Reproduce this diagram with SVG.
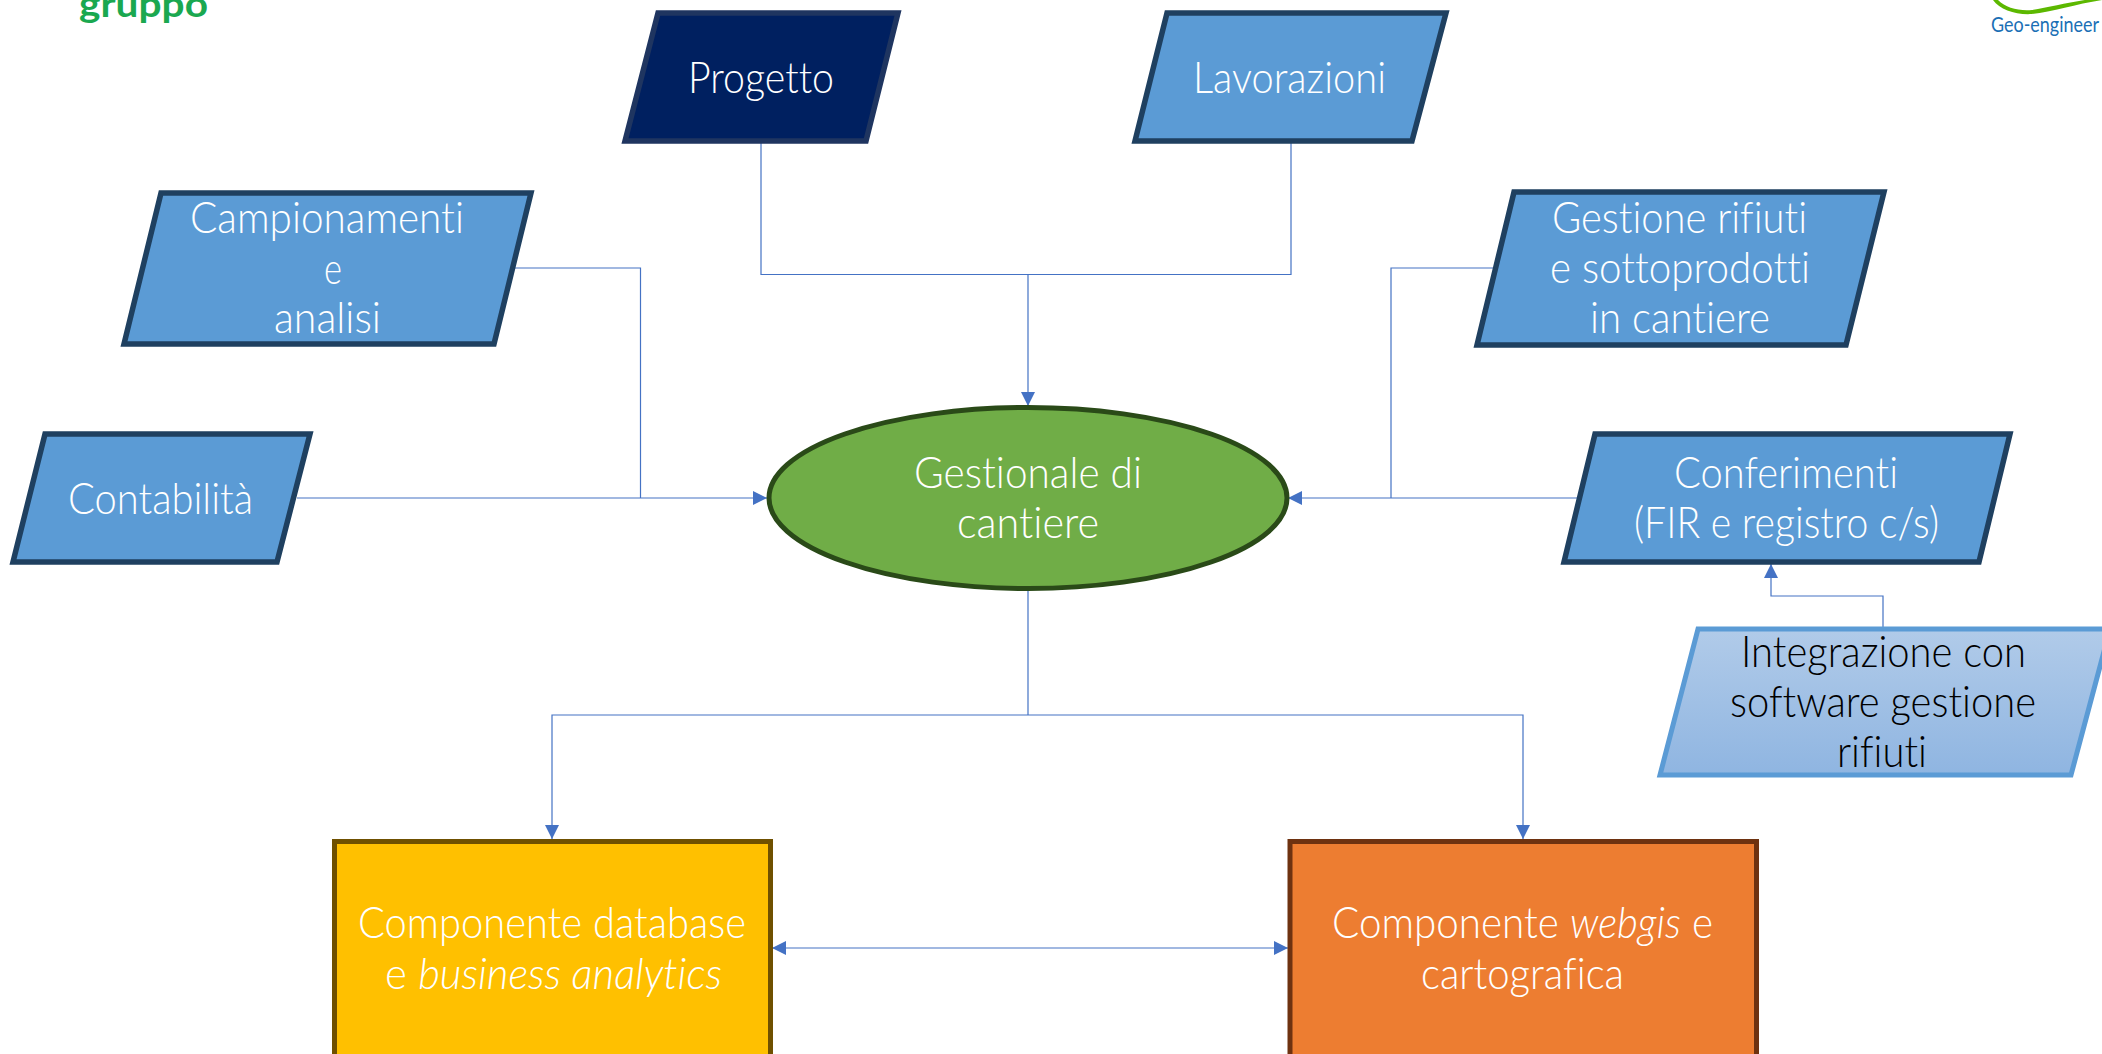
<svg xmlns="http://www.w3.org/2000/svg" width="2102" height="1054" viewBox="0 0 2102 1054">
<style>
text{font-family:"Lato","Open Sans","Liberation Sans",sans-serif;font-weight:300;font-size:44px;fill:#fff;font-variant-ligatures:none;transform:translateY(1px)}
.k{fill:#000}
.i{font-style:italic}
.p{fill:#5b9bd5;stroke:#1f4060;stroke-width:5.500}
.c{fill:none;stroke:#4472c4;stroke-width:1.200}
</style>
<defs>
<marker id="a" viewBox="0 0 12 12" refX="12" refY="6" markerUnits="userSpaceOnUse" markerWidth="14" markerHeight="14" orient="auto-start-reverse"><path d="M0 0L12 6L0 12z" fill="#4472c4"/></marker>
<linearGradient id="g" x1="0" y1="0" x2="0" y2="1"><stop offset="0" stop-color="#b1cbe9"/><stop offset="1" stop-color="#8fb5e1"/></linearGradient>
</defs>
<g id="logo-left"><text x="79" y="16" textLength="129" lengthAdjust="spacingAndGlyphs" style="font-weight:700;font-size:36px;fill:#1aa850">gruppo</text></g>
<g id="logo-right"><path d="M1993 0C2000 10 2016 15 2032 14C2052 12 2076 4 2102 0V-2C2076 0 2052 7 2032 10C2018 11 2006 8 1998 0z" fill="#5cb800"/><text x="1991" y="31" textLength="108" lengthAdjust="spacingAndGlyphs" style="font-weight:400;font-size:21px;fill:#1a6fb5">Geo-engineer</text></g>
<g id="connectors">
<path class="c" d="M761 143V274.500H1291V143"/>
<path class="c" d="M1028 274.500V406" marker-end="url(#a)"/>
<path class="c" d="M515 268H640.500V498"/>
<path class="c" d="M297 498H767" marker-end="url(#a)"/>
<path class="c" d="M1494 268H1391V498"/>
<path class="c" d="M1578 498H1288" marker-end="url(#a)"/>
<path class="c" d="M1883 627V596H1771V564" marker-end="url(#a)"/>
<path class="c" d="M1028 590V715"/>
<path class="c" d="M1028 715H552V839" marker-end="url(#a)"/>
<path class="c" d="M1028 715H1523V839" marker-end="url(#a)"/>
<path class="c" d="M772 948H1288" marker-start="url(#a)" marker-end="url(#a)"/>
</g>
<g id="progetto"><path d="M658 13H898L866 141H625z" style="fill:#002060;stroke:#1f3560;stroke-width:5.500"/><text x="688" y="92" textLength="146" lengthAdjust="spacingAndGlyphs">Progetto</text></g>
<g id="lavorazioni"><path class="p" d="M1167 13H1446L1412 141H1135z"/><text x="1193" y="92" textLength="193" lengthAdjust="spacingAndGlyphs">Lavorazioni</text></g>
<g id="campionamenti"><path class="p" d="M161 193H531L494 344H124z"/>
<text x="190" y="232" textLength="274" lengthAdjust="spacingAndGlyphs">Campionamenti</text><text x="324" y="283" textLength="18" lengthAdjust="spacingAndGlyphs">e</text><text x="274" y="332" textLength="107" lengthAdjust="spacingAndGlyphs">analisi</text></g>
<g id="contabilita"><path class="p" d="M45 434H310L277 562H13z"/><text x="68" y="513" textLength="185" lengthAdjust="spacingAndGlyphs">Contabilità</text></g>
<g id="gestione"><path class="p" d="M1514 192H1884L1846 345H1477z"/>
<text x="1552" y="232" textLength="255" lengthAdjust="spacingAndGlyphs">Gestione rifiuti</text><text x="1550" y="282" textLength="260" lengthAdjust="spacingAndGlyphs">e sottoprodotti</text><text x="1590" y="332" textLength="180" lengthAdjust="spacingAndGlyphs">in cantiere</text></g>
<g id="conferimenti"><path class="p" d="M1595 434H2010L1979 562H1564z"/>
<text x="1674" y="487" textLength="224" lengthAdjust="spacingAndGlyphs">Conferimenti</text><text x="1634" y="537" textLength="305" lengthAdjust="spacingAndGlyphs">(FIR e registro c/s)</text></g>
<g id="integrazione"><path d="M1698 629H2110L2071 775H1660z" style="fill:url(#g);stroke:#5b9bd5;stroke-width:5"/>
<text class="k" x="1741" y="666" textLength="285" lengthAdjust="spacingAndGlyphs">Integrazione con</text><text class="k" x="1730" y="716" textLength="306" lengthAdjust="spacingAndGlyphs">software gestione</text><text class="k" x="1837" y="766" textLength="90" lengthAdjust="spacingAndGlyphs">rifiuti</text></g>
<g id="gestionale"><ellipse cx="1028" cy="498" rx="259" ry="90.500" style="fill:#70ad47;stroke:#2a4a18;stroke-width:5"/>
<text x="914" y="487" textLength="228" lengthAdjust="spacingAndGlyphs">Gestionale di</text><text x="957" y="537" textLength="142" lengthAdjust="spacingAndGlyphs">cantiere</text></g>
<g id="database"><rect x="334.500" y="841.500" width="436" height="215" style="fill:#ffc000;stroke:#6f5000;stroke-width:5"/>
<text x="358" y="937" textLength="388" lengthAdjust="spacingAndGlyphs">Componente database</text><text x="385" y="988" textLength="337" lengthAdjust="spacingAndGlyphs">e <tspan class="i">business analytics</tspan></text></g>
<g id="webgis"><rect x="1290" y="841.500" width="466.500" height="215" style="fill:#ed7d31;stroke:#6e3210;stroke-width:5"/>
<text x="1332" y="937" textLength="381" lengthAdjust="spacingAndGlyphs">Componente <tspan class="i">webgis</tspan> e</text><text x="1421" y="988" textLength="203" lengthAdjust="spacingAndGlyphs">cartografica</text></g>
</svg>
